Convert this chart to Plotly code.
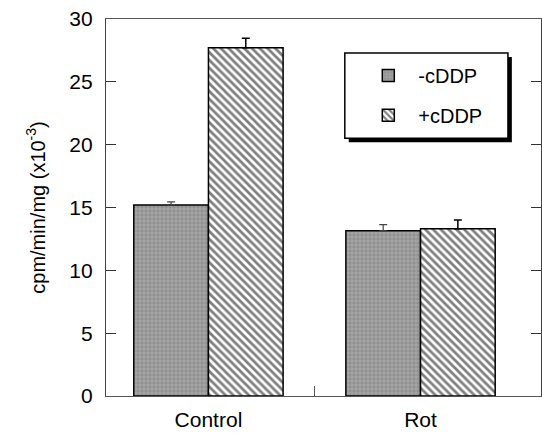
import plotly.graph_objects as go

categories = ["Control", "Rot"]
minus_vals = [15.2, 13.15]
minus_err = [0.25, 0.48]
plus_vals = [27.72, 13.31]
plus_err = [0.74, 0.69]
yticks = [0, 5, 10, 15, 20, 25, 30]

xpos = list(range(len(categories)))
FONT = "Liberation Sans, Arial, sans-serif"

fig = go.Figure()
fig.add_trace(go.Bar(
    x=xpos, y=minus_vals, name="-cDDP", offset=-0.352, width=0.352,
    marker=dict(color="#909090", line=dict(color="black", width=1.5),
                pattern=dict(shape="+", fgcolor="#d8d8d8", bgcolor="#909090", size=4, solidity=0.3)),
    error_y=dict(type="data", symmetric=False, array=minus_err, arrayminus=[0, 0],
                 color="#444", thickness=1.2, width=4),
    legend="legend",
))
fig.add_trace(go.Bar(
    x=xpos, y=plus_vals, name="+cDDP", offset=0.0, width=0.352,
    marker=dict(color="white", line=dict(color="black", width=1.5),
                pattern=dict(shape="\\", fgcolor="black", bgcolor="white", size=5.5, solidity=0.5)),
    error_y=dict(type="data", symmetric=False, array=plus_err, arrayminus=[0, 0],
                 color="black", thickness=1.5, width=4),
    legend="legend2",
))

# legend box with shadow
fig.add_shape(type="rect", xref="paper", yref="paper", x0=0.558, x1=0.933, y0=0.673, y1=0.899,
              fillcolor="black", line=dict(width=0), layer="above")
fig.add_shape(type="rect", xref="paper", yref="paper", x0=0.549, x1=0.924, y0=0.684, y1=0.910,
              fillcolor="white", line=dict(color="black", width=1.5), layer="above")

fig.update_layout(
    width=542, height=433,
    margin=dict(l=106, r=1, t=19, b=37, autoexpand=False),
    paper_bgcolor="white", plot_bgcolor="white",
    font=dict(family=FONT, size=21, color="black"),
    showlegend=True,
    legend=dict(x=0.58, y=0.85, xanchor="left", yanchor="middle", bgcolor="rgba(0,0,0,0)",
                font=dict(size=20), itemwidth=50),
    legend2=dict(x=0.58, y=0.745, xanchor="left", yanchor="middle", bgcolor="rgba(0,0,0,0)",
                 font=dict(size=20), itemwidth=50),
    xaxis=dict(range=[-0.483, 1.568], tickvals=xpos, ticktext=categories, ticks="",
               showline=True, linecolor="#555", linewidth=1.2, mirror=True, showgrid=False,
               zeroline=False, ticklabelstandoff=5,
               minor=dict(tickvals=[0.5], ticks="inside", ticklen=10, tickcolor="#555", tickwidth=1.2)),
    yaxis=dict(range=[0, 30], tickvals=yticks, ticks="inside", ticklen=10, tickcolor="#333",
               showline=True, linecolor="#444", linewidth=1.2, mirror="ticks", showgrid=False,
               zeroline=False, ticklabelstandoff=8,
               title=dict(text="cpm/min/mg (x10<sup>-3</sup>)", standoff=18, font=dict(size=20))),
)

fig.write_html("out.html", config={"displayModeBar": False},
               post_script="document.body.style.margin='0';document.body.style.overflow='hidden';")
